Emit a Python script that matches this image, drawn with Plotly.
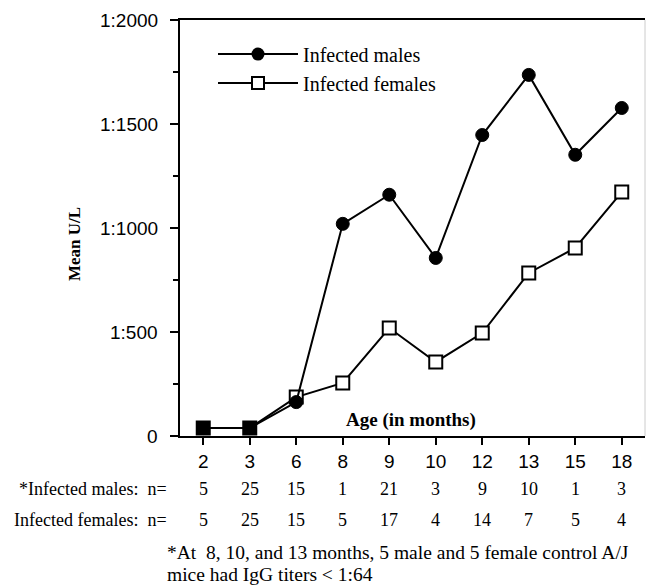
import plotly.graph_objects as go

ages = ["2", "3", "6", "8", "9", "10", "12", "13", "15", "18"]
males = [38, 38, 163, 1020, 1160, 856, 1447, 1736, 1352, 1577]
females = [38, 38, 187, 255, 519, 356, 495, 784, 904, 1173]
n_males = [5, 25, 15, 1, 21, 3, 9, 10, 1, 3]
n_females = [5, 25, 15, 5, 17, 4, 14, 7, 5, 4]
y_ticks = [0, 500, 1000, 1500, 2000]
y_ticktext = ["0", "1:500", "1:1000", "1:1500", "1:2000"]
footnote = ["*At  8, 10, and 13 months, 5 male and 5 female control A/J",
            "mice had IgG titers < 1:64"]

SERIF = "Liberation Serif"
SANS = "Liberation Sans"

# plot area in pixels: left 180, right 645, top 20, bottom 436
L, R, T, B = 180, 645, 20, 436
def px(xp):
    return (xp - L) / (R - L)
def py(yp):
    return (B - yp) / (B - T)

fem_colors = ["black" if i < 2 else "white" for i in range(len(ages))]

fig = go.Figure()
fig.add_trace(go.Scatter(
    x=ages, y=females, mode="lines+markers", showlegend=False,
    line=dict(color="black", width=2),
    marker=dict(symbol="square", size=13, color=fem_colors,
                line=dict(color="black", width=2)),
))
fig.add_trace(go.Scatter(
    x=ages, y=males, mode="lines+markers", showlegend=False,
    line=dict(color="black", width=2),
    marker=dict(symbol="circle", size=13, color="black",
                line=dict(color="black", width=1)),
))
# legend entries
fig.add_trace(go.Scatter(
    x=[None], y=[None], mode="lines+markers", name="Infected males",
    line=dict(color="black", width=2),
    marker=dict(symbol="circle", size=13, color="black"),
))
fig.add_trace(go.Scatter(
    x=[None], y=[None], mode="lines+markers", name="Infected females",
    line=dict(color="black", width=2),
    marker=dict(symbol="square", size=12, color="white",
                line=dict(color="black", width=2)),
))

annotations = []
# y tick labels placed with a wider gap from the axis
for v, t in zip(y_ticks, y_ticktext):
    annotations.append(dict(
        x=px(159), y=v, xref="paper", yref="y", text=t, showarrow=False,
        xanchor="right", yanchor="middle", borderpad=0,
        font=dict(family=SANS, size=19, color="black")))

row_y = [py(489), py(520)]
row_labels = ["*Infected males:  n=", "Infected females:  n="]
for ry, lab, vals in zip(row_y, row_labels, [n_males, n_females]):
    annotations.append(dict(
        x=px(169), y=ry, xref="paper", yref="paper", text=lab, showarrow=False,
        xanchor="right", yanchor="middle", font=dict(family=SERIF, size=18, color="black")))
    for i, v in enumerate(vals):
        annotations.append(dict(
            x=i, y=ry, xref="x", yref="paper", text=str(v), showarrow=False,
            xanchor="center", yanchor="middle", font=dict(family=SERIF, size=18, color="black")))

for line_text, yy in zip(footnote, [552, 574]):
    annotations.append(dict(
        x=px(166), y=py(yy), xref="paper", yref="paper",
        text=line_text, showarrow=False, xanchor="left", yanchor="middle", align="left",
        borderpad=0, font=dict(family=SERIF, size=19.5, color="black")))
annotations.append(dict(
    x=px(411), y=py(420), xref="paper", yref="paper",
    text="<b>Age (in months)</b>", showarrow=False, xanchor="center", yanchor="middle",
    font=dict(family=SERIF, size=19, color="black")))
annotations.append(dict(
    x=px(74), y=py(244), xref="paper", yref="paper",
    text="<b>Mean U/L</b>", showarrow=False, textangle=-90, xanchor="center", yanchor="middle",
    font=dict(family=SERIF, size=17, color="black")))

fig.update_layout(
    width=647, height=586,
    margin=dict(l=L, r=647 - R, t=T, b=586 - B),
    plot_bgcolor="white", paper_bgcolor="white",
    showlegend=True,
    legend=dict(x=px(213), y=0.965, xanchor="left", yanchor="top",
                bgcolor="rgba(0,0,0,0)", font=dict(family=SERIF, size=20, color="black"),
                tracegroupgap=0, itemwidth=80),
    annotations=annotations,
    xaxis=dict(
        type="category", categoryorder="array", categoryarray=ages,
        range=[-0.5, 9.5], showgrid=False, zeroline=False,
        showline=True, linecolor="black", linewidth=2, mirror=True,
        ticks="outside", ticklen=7, tickwidth=1.5, tickcolor="black",
        tickfont=dict(family=SANS, size=19, color="black"),
    ),
    yaxis=dict(
        range=[0, 2000], tickvals=y_ticks, showticklabels=False,
        showgrid=False, zeroline=False,
        showline=True, linecolor="black", linewidth=2,
        ticks="outside", ticklen=8, tickwidth=1.5, tickcolor="black",
        minor=dict(dtick=250, tick0=0, ticks="outside", ticklen=5, tickcolor="black", tickwidth=1.5),
    ),
    shapes=[dict(type="line", xref="paper", yref="paper", x0=1, x1=1, y0=0, y1=1,
                 line=dict(color="#cccccc", width=1))],
)

fig.write_html("out.html")
